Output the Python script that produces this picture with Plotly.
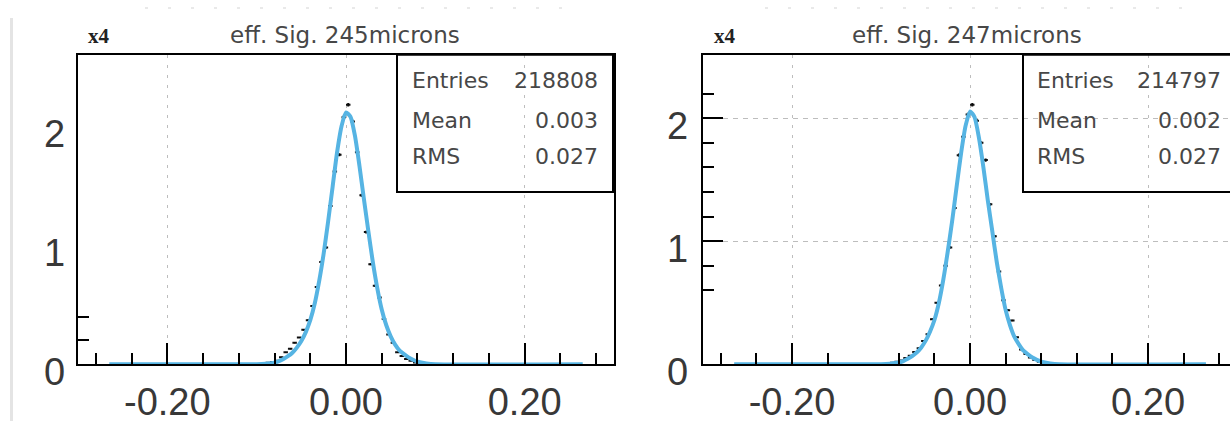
import math
import plotly.graph_objects as go

W, H = 1230, 423

# ---- histogram contents (units of 1e4 entries per 0.005 bin) ----
bin_centers = [-0.0975, -0.0925, -0.0875, -0.0825, -0.0775, -0.0725, -0.0675, -0.0625,
               -0.0575, -0.0525, -0.0475, -0.0425, -0.0375, -0.0325, -0.0275, -0.0225,
               -0.0175, -0.0125, -0.0075, -0.0025, 0.0025, 0.0075, 0.0125, 0.0175,
               0.0225, 0.0275, 0.0325, 0.0375, 0.0425, 0.0475, 0.0525, 0.0575,
               0.0625, 0.0675, 0.0725, 0.0775, 0.0825, 0.0875, 0.0925, 0.0975]
bin_half_width = 0.0025

counts_245 = [0.0, 0.005, 0.012, 0.02, 0.03, 0.06, 0.10, 0.13,
              0.18, 0.225, 0.29, 0.37, 0.49, 0.65, 0.86, 0.98,
              1.33, 1.62, 1.76, 2.075, 2.18, 2.04, 1.78, 1.42,
              1.11, 0.84, 0.66, 0.56, 0.38, 0.25, 0.18, 0.10,
              0.07, 0.045, 0.03, 0.015, 0.008, 0.003, 0.0, 0.0]

counts_247 = [0.0, 0.005, 0.012, 0.02, 0.03, 0.05, 0.07, 0.10,
              0.13, 0.19, 0.245, 0.365, 0.50, 0.64, 0.80, 0.95,
              1.27, 1.70, 1.85, 2.03, 2.11, 1.98, 1.80, 1.66,
              1.30, 1.04, 0.755, 0.52, 0.44, 0.355, 0.22, 0.12,
              0.083, 0.055, 0.035, 0.02, 0.01, 0.004, 0.0, 0.0]

# ---- fitted curves ----
fit_x = [-0.265, -0.1, -0.09, -0.08, -0.075, -0.07, -0.065, -0.06, -0.055, -0.05,
         -0.045, -0.04, -0.035, -0.03, -0.025, -0.02, -0.015, -0.01, -0.005, 0.0,
         0.005, 0.01, 0.015, 0.02, 0.025, 0.03, 0.035, 0.04, 0.045, 0.05,
         0.055, 0.06, 0.065, 0.07, 0.075, 0.08, 0.09, 0.1, 0.265]
fit_245 = [0.0, 0.0, 0.004, 0.014, 0.027, 0.045, 0.068, 0.097, 0.14, 0.195,
           0.27, 0.37, 0.51, 0.70, 0.93, 1.20, 1.49, 1.78, 2.00, 2.115,
           2.08, 1.92, 1.67, 1.39, 1.12, 0.86, 0.64, 0.46, 0.33, 0.235,
           0.165, 0.115, 0.085, 0.058, 0.038, 0.022, 0.007, 0.0, 0.0]
fit_247 = [0.0, 0.0, 0.004, 0.014, 0.026, 0.044, 0.066, 0.095, 0.135, 0.19,
           0.265, 0.36, 0.50, 0.69, 0.92, 1.17, 1.45, 1.72, 1.94, 2.055,
           2.01, 1.84, 1.60, 1.33, 1.08, 0.83, 0.62, 0.44, 0.315, 0.22,
           0.16, 0.11, 0.08, 0.055, 0.036, 0.021, 0.007, 0.0, 0.0]

titles = ["eff. Sig. 245microns", "eff. Sig. 247microns"]
stats_labels = ["Entries", "Mean", "RMS"]
stats_245 = ["218808", "0.003", "0.027"]
stats_247 = ["214797", "0.002", "0.027"]

x_major = [-0.2, 0.0, 0.2]
x_major_text = ["-0.20", "0.00", "0.20"]
x_minor_245 = [-0.28, -0.24, -0.16, -0.12, -0.08, -0.04, 0.04, 0.08, 0.12, 0.16, 0.24, 0.28]
x_minor_247 = [-0.28, -0.24, -0.16, -0.08, -0.04, 0.04, 0.08, 0.12, 0.16, 0.24, 0.28]
y_labels = [0, 1, 2]
y_minor_245 = [0.2, 0.4]
y_minor_247 = [0.6, 0.8, 1.2, 1.4, 1.6, 1.8, 2.2]

FIT_COLOR = "#56b4e3"
FONT = "DejaVu Sans"
TICK_FONT = "Liberation Sans"
TXT = "#383838"
STAT_TXT = "#474747"


def fx(p):
    return p / W


def fy(p):
    return 1 - p / H


fig = go.Figure()

for counts, fit, xa, ya in [(counts_245, fit_245, "x", "y"), (counts_247, fit_247, "x2", "y2")]:
    fig.add_trace(go.Scatter(
        x=bin_centers, y=counts, xaxis=xa, yaxis=ya, mode="markers",
        marker=dict(size=1, color="black"),
        error_x=dict(type="constant", value=bin_half_width, width=0, thickness=2, color="#111"),
        error_y=dict(type="data", array=[math.sqrt(c) / 100 for c in counts],
                     width=0, thickness=2, color="#111"),
        showlegend=False, hoverinfo="skip"))
    fig.add_trace(go.Scatter(
        x=fit_x, y=fit, xaxis=xa, yaxis=ya, mode="lines",
        line=dict(color=FIT_COLOR, width=4, shape="spline", smoothing=0.6),
        showlegend=False, hoverinfo="skip"))

common_x = dict(
    showline=True, linecolor="black", linewidth=2, mirror=True,
    tickmode="array", tickvals=x_major, ticktext=x_major_text,
    ticks="inside", ticklen=21, tickwidth=2, tickcolor="black",
    tickfont=dict(family=TICK_FONT, size=38, color=TXT), ticklabelstandoff=3,
    showgrid=True, gridcolor="#bdbdbd", gridwidth=1, griddash="3px,7px",
    zeroline=False,
)

fig.update_layout(
    width=W, height=H, margin=dict(l=0, r=0, t=0, b=0),
    paper_bgcolor="white", plot_bgcolor="white",
    xaxis=dict(common_x, domain=[fx(78), fx(614)], range=[-0.3, 0.3], anchor="y",
               minor=dict(tickmode="array", tickvals=x_minor_245, ticks="inside",
                          ticklen=11, tickwidth=2, tickcolor="black", showgrid=False)),
    xaxis2=dict(common_x, domain=[fx(703), 1.0], range=[-0.3, 0.292], anchor="y2",
                minor=dict(tickmode="array", tickvals=x_minor_247, ticks="inside",
                           ticklen=11, tickwidth=2, tickcolor="black", showgrid=False)),
    yaxis=dict(domain=[fy(366), fy(55)], range=[0, 2.6], anchor="x",
               showline=True, linecolor="black", linewidth=2, mirror=True,
               tickmode="array", tickvals=[0, 1, 2], ticks="", showticklabels=False,
               showgrid=False, zeroline=False,
               minor=dict(tickmode="array", tickvals=y_minor_245, ticks="inside",
                          ticklen=11, tickwidth=2, tickcolor="black", showgrid=False)),
    yaxis2=dict(domain=[fy(366), fy(55)], range=[0, 2.516], anchor="x2",
                showline=True, linecolor="black", linewidth=2, mirror=False,
                tickmode="array", tickvals=[1, 2], ticks="inside", ticklen=20,
                tickwidth=2, tickcolor="black", showticklabels=False,
                showgrid=True, gridcolor="#bdbdbd", gridwidth=1, griddash="5px,5px",
                zeroline=False,
                minor=dict(tickmode="array", tickvals=y_minor_247, ticks="inside",
                           ticklen=11, tickwidth=2, tickcolor="black", showgrid=False)),
)

annotations = []
shapes = []

# y tick labels, set a little below their tick positions
for ya, xr in [("y", 67), ("y2", 690)]:
    for v in y_labels:
        annotations.append(dict(xref="paper", yref=ya, x=fx(xr), y=v, yshift=-8,
                                xanchor="right", yanchor="middle", showarrow=False,
                                text=str(v), font=dict(family=TICK_FONT, size=38, color=TXT)))

# titles and exponent labels
for title, cx, xx in [(titles[0], 345, 99), (titles[1], 967, 725)]:
    annotations.append(dict(xref="paper", yref="paper", x=fx(cx), y=fy(35),
                            xanchor="center", yanchor="middle", showarrow=False,
                            text=title, font=dict(family=FONT, size=23, color=STAT_TXT)))
    annotations.append(dict(xref="paper", yref="paper", x=fx(xx), y=fy(36),
                            xanchor="center", yanchor="middle", showarrow=False,
                            text="<b>x4</b>", font=dict(family="Liberation Serif", size=21, color="#222")))

# statistics boxes
for vals, x0, x1, lx, vx in [(stats_245, 397, 613, 410, 600), (stats_247, 1023, 1240, 1035, 1223)]:
    shapes.append(dict(type="rect", xref="paper", yref="paper",
                       x0=fx(x0), x1=fx(x1), y0=fy(193), y1=fy(55),
                       line=dict(color="black", width=2), fillcolor="rgba(0,0,0,0)", layer="above"))
    for lab, val, yy in zip(stats_labels, vals, [81, 121, 157]):
        annotations.append(dict(xref="paper", yref="paper", x=fx(lx), y=fy(yy),
                                xanchor="left", yanchor="middle", showarrow=False,
                                text=lab, font=dict(family=FONT, size=22, color=STAT_TXT)))
        annotations.append(dict(xref="paper", yref="paper", x=fx(vx), y=fy(yy),
                                xanchor="right", yanchor="middle", showarrow=False,
                                text=val, font=dict(family=FONT, size=22, color=STAT_TXT)))

# canvas edge line on the left
shapes.append(dict(type="line", xref="paper", yref="paper", x0=fx(11.5), x1=fx(11.5),
                   y0=fy(18), y1=0, line=dict(color="#e4e4e4", width=3)))
# faint dashes along the top edge
for a, b in [(145, 575), (765, 1195)]:
    shapes.append(dict(type="line", xref="paper", yref="paper", x0=fx(a), x1=fx(b),
                       y0=fy(8), y1=fy(8), line=dict(color="#e2e2e2", width=1.5, dash="3px,20px")))

fig.update_layout(annotations=annotations, shapes=shapes)
fig.write_html("out.html")
